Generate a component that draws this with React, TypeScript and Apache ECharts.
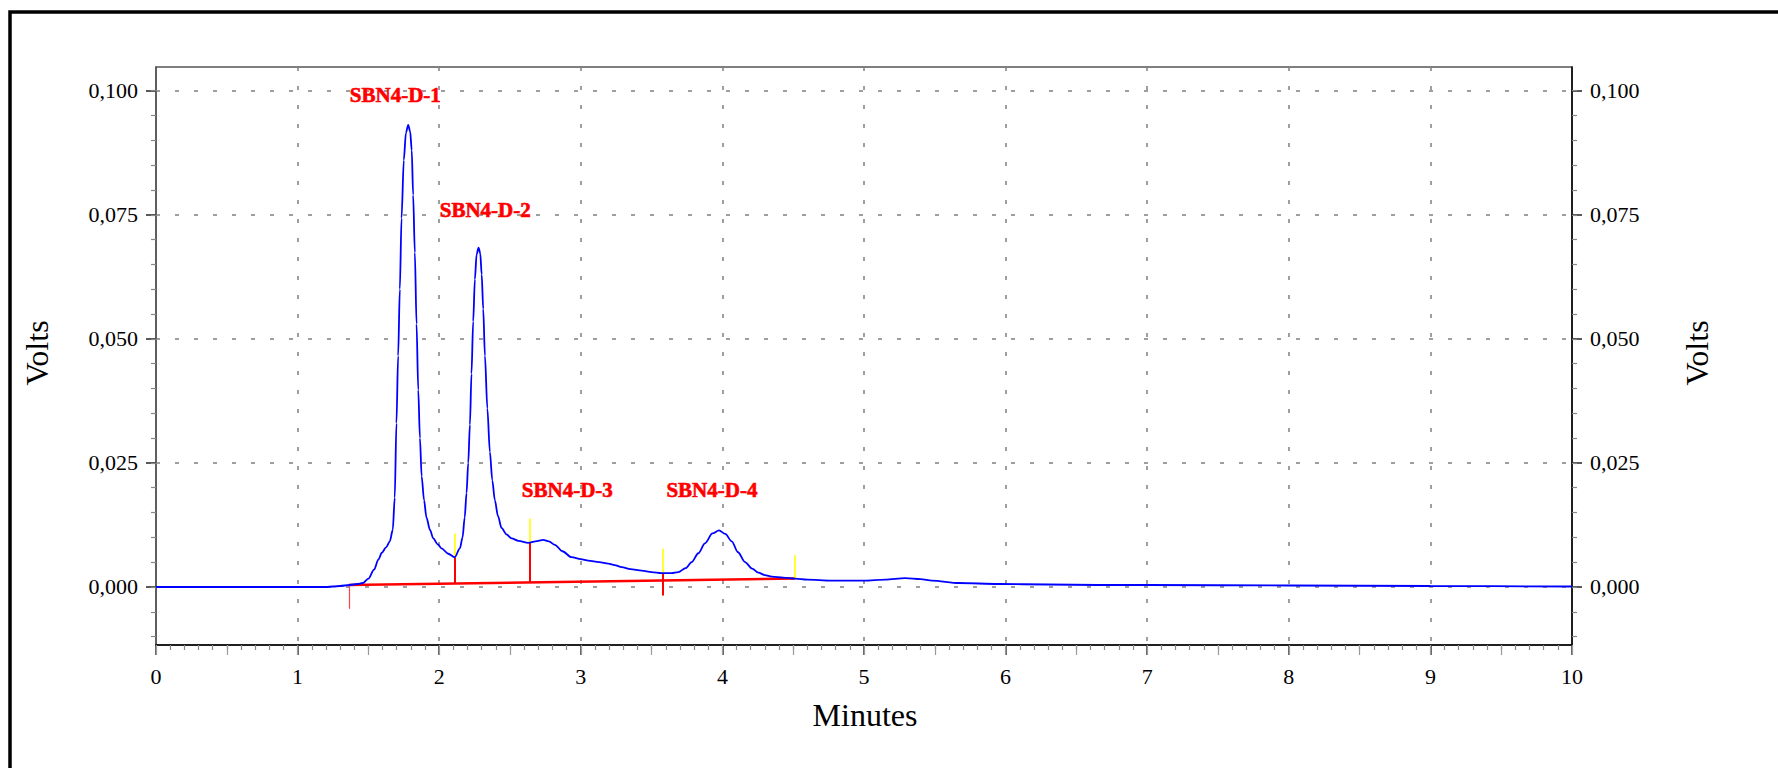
import React, { useEffect, useRef } from "react";
import * as echarts from "echarts";

// Chromatogram trace (minutes, volts)
const timeMin = [
  0, 0.5, 1.0, 1.2, 1.25, 1.30, 1.365, 1.42, 1.46, 1.50,
  1.54, 1.57, 1.595, 1.625, 1.651, 1.672, 1.686, 1.698, 1.710, 1.722,
  1.734, 1.750, 1.765, 1.781, 1.795, 1.806, 1.816, 1.828, 1.840, 1.852,
  1.864, 1.876, 1.893, 1.910, 1.935, 1.958, 1.990, 2.016, 2.064, 2.110,
  2.146, 2.165, 2.180, 2.193, 2.205, 2.217, 2.228, 2.240, 2.252, 2.264,
  2.278, 2.290, 2.300, 2.311, 2.323, 2.340, 2.358, 2.375, 2.393, 2.415,
  2.440, 2.475, 2.511, 2.560, 2.629, 2.680, 2.735, 2.775, 2.817, 2.870,
  2.935, 3.000, 3.053, 3.130, 3.194, 3.240, 3.289, 3.350, 3.430, 3.500,
  3.571, 3.640, 3.689, 3.740, 3.783, 3.830, 3.877, 3.930, 3.976, 4.020,
  4.066, 4.110, 4.160, 4.210, 4.254, 4.300, 4.349, 4.430, 4.513, 4.600,
  4.770, 5.000, 5.150, 5.290, 5.400, 5.480, 5.670, 5.950, 6.300, 6.650,
  7.0, 8.0, 9.0, 10.0,
];
const volts = [
  0, 0, 0, 0, 0.0001, 0.0002, 0.0004, 0.0006, 0.0008, 0.0017,
  0.0035, 0.0055, 0.0069, 0.0080, 0.0092, 0.0115, 0.0180, 0.0330, 0.0466, 0.0600,
  0.0743, 0.0860, 0.0915, 0.0931, 0.0918, 0.0880, 0.0790, 0.0674, 0.0530, 0.0397,
  0.0300, 0.0223, 0.0175, 0.0140, 0.0115, 0.0098, 0.0086, 0.0078, 0.0067, 0.0060,
  0.0078, 0.0100, 0.0140, 0.0189, 0.0250, 0.0327, 0.0430, 0.0535, 0.0620, 0.0670,
  0.0684, 0.0672, 0.0630, 0.0560, 0.0466, 0.0360, 0.0272, 0.0215, 0.0175, 0.0143,
  0.0119, 0.0106, 0.0098, 0.0093, 0.0089, 0.0092, 0.0095, 0.0092, 0.0085, 0.0072,
  0.0060, 0.0056, 0.0053, 0.0050, 0.0047, 0.0044, 0.0040, 0.0036, 0.0033, 0.0030,
  0.0028, 0.0028, 0.0030, 0.0038, 0.0050, 0.0068, 0.0088, 0.0108, 0.0114, 0.0107,
  0.0092, 0.0070, 0.0050, 0.0037, 0.0029, 0.0024, 0.0021, 0.0019, 0.0017, 0.0015,
  0.0013, 0.0013, 0.0015, 0.0018, 0.0016, 0.0013, 0.0008, 0.0006, 0.0005, 0.0004,
  0.0004, 0.0003, 0.0002, 0.0001,
];

// Integration baseline (red)
const baselineTime = [1.362, 4.513];
const baselineVolts = [0.0004, 0.0017];

// Peak delimiter marks: [minutes, fromVolts, toVolts]
const redMarks = [
  [2.11, 0.0006, 0.006],
  [2.64, 0.0008, 0.0089],
  [3.578, 0.0028, -0.0017],
];
const faintRedMarks = [[1.362, 0.0004, -0.0044]];
const yellowMarks = [
  [2.11, 0.006, 0.0108],
  [2.64, 0.0089, 0.0138],
  [3.578, 0.0028, 0.0077],
  [4.513, 0.0017, 0.0064],
];

// Peak names and their label anchors
const peakNames = ["SBN4-D-1", "SBN4-D-2", "SBN4-D-3", "SBN4-D-4"];
const peakLabelX = [1.69, 2.325, 2.905, 3.926];
const peakLabelY = [0.0992, 0.076, 0.0195, 0.0195];

// Axes
const xMin = 0;
const xMax = 10;
const yMin = -0.01169;
const yMax = 0.10478;
const yMajorTicks = [0, 0.025, 0.05, 0.075, 0.1];
const yMinorTicks = [
  -0.01, -0.005, 0, 0.005, 0.01, 0.015, 0.02, 0.025, 0.03, 0.035, 0.04, 0.045,
  0.05, 0.055, 0.06, 0.065, 0.07, 0.075, 0.08, 0.085, 0.09, 0.095, 0.1,
];

const SERIF = "'Liberation Serif', 'Times New Roman', serif";
const GRID_COLOR = "#808080";

export default function App() {
  const ref = useRef<HTMLDivElement>(null);

  useEffect(() => {
    if (!ref.current) return;
    const chart = echarts.init(ref.current, undefined, { renderer: "svg" });

    const curve = timeMin.map((t, i) => [t, volts[i]]);
    const baseline = baselineTime.map((t, i) => [t, baselineVolts[i]]);
    const seg = (m: number[], style: any) => [
      { coord: [m[0], m[1]], lineStyle: style },
      { coord: [m[0], m[2]] },
    ];
    const gridStyle = { color: GRID_COLOR, width: 1.5, type: [4, 15] };

    const fmt = (v: number) => v.toFixed(3).replace(".", ",");

    const yMajor = (pos: "left" | "right", lineColor: string) => ({
      type: "value",
      position: pos,
      min: yMin,
      max: yMax,
      axisLine: { show: true, onZero: false, lineStyle: { color: lineColor, width: 1.5 } },
      axisTick: {
        show: true,
        length: 10,
        customValues: yMajorTicks,
        lineStyle: { color: "#222", width: 1.5 },
      },
      axisLabel: {
        show: true,
        customValues: yMajorTicks,
        formatter: fmt,
        fontFamily: SERIF,
        fontSize: 22,
        color: "#000",
        margin: 18,
      },
      splitLine: { show: false },
      minorSplitLine: { show: false },
      splitArea: { show: false },
    });
    const yMinor = (pos: "left" | "right") => ({
      type: "value",
      position: pos,
      min: yMin,
      max: yMax,
      axisLine: { show: false, onZero: false },
      axisTick: {
        show: true,
        length: 5,
        customValues: yMinorTicks,
        lineStyle: { color: "#888", width: 1.2 },
      },
      axisLabel: { show: false },
      splitLine: { show: false },
      minorSplitLine: { show: false },
      splitArea: { show: false },
    });

    chart.setOption({
      animation: false,
      backgroundColor: "#fff",
      grid: {
        left: 156,
        right: 206,
        top: 67,
        bottom: 123,
        show: true,
        borderColor: "#555",
        borderWidth: 1.5,
        containLabel: false,
      },
      xAxis: [
        {
          type: "value",
          position: "bottom",
          min: xMin,
          max: xMax,
          interval: 1,
          axisLine: { show: true, onZero: false, lineStyle: { color: "#000", width: 1.5 } },
          axisTick: { show: true, length: 10, lineStyle: { color: "#333", width: 1.5 } },
          minorTick: { show: true, splitNumber: 10, length: 5, lineStyle: { color: "#888", width: 1.2 } },
          axisLabel: { fontFamily: SERIF, fontSize: 22, color: "#000", margin: 20 },
          splitLine: { show: true, lineStyle: gridStyle },
        },
        {
          type: "value",
          position: "bottom",
          min: xMin,
          max: xMax,
          interval: 0.5,
          axisLine: { show: false, onZero: false },
          axisTick: { show: true, length: 10, lineStyle: { color: "#999", width: 1.2 } },
          axisLabel: { show: false },
          splitLine: { show: false },
        },
      ],
      yAxis: [yMajor("left", "#555"), yMinor("left"), yMajor("right", "#000"), yMinor("right")],
      graphic: [
        {
          type: "rect",
          shape: { x: 10, y: 12, width: 1800, height: 800 },
          style: { fill: "none", stroke: "#000", lineWidth: 3.5 },
          silent: true,
        },
        {
          type: "text",
          x: 37,
          y: 353,
          rotation: Math.PI / 2,
          style: {
            text: "Volts",
            font: `32px ${SERIF}`,
            fill: "#000",
            textAlign: "center",
            textVerticalAlign: "middle",
          },
        },
        {
          type: "text",
          x: 1697,
          y: 353,
          rotation: Math.PI / 2,
          style: {
            text: "Volts",
            font: `32px ${SERIF}`,
            fill: "#000",
            textAlign: "center",
            textVerticalAlign: "middle",
          },
        },
        {
          type: "text",
          x: 865,
          y: 715,
          style: {
            text: "Minutes",
            font: `32px ${SERIF}`,
            fill: "#000",
            textAlign: "center",
            textVerticalAlign: "middle",
          },
        },
      ],
      series: [
        {
          name: "grid",
          type: "line",
          data: [],
          z: 1,
          markLine: {
            silent: true,
            symbol: "none",
            label: { show: false },
            lineStyle: gridStyle,
            data: yMajorTicks.map((v) => [{ coord: [xMin, v] }, { coord: [xMax, v] }]),
          },
        },
        {
          name: "baseline",
          type: "line",
          data: baseline,
          showSymbol: false,
          symbol: "none",
          z: 4,
          lineStyle: { color: "#ff0000", width: 2.5 },
        },
        {
          name: "trace",
          type: "line",
          data: curve,
          showSymbol: false,
          symbol: "none",
          smooth: 0.3,
          smoothMonotone: "x",
          z: 5,
          lineStyle: { color: "#0000ff", width: 1.8 },
        },
        {
          name: "marks",
          type: "line",
          data: [],
          z: 6,
          markLine: {
            silent: true,
            symbol: "none",
            label: { show: false },
            data: [
              ...redMarks.map((m) => seg(m, { color: "#ff0000", width: 2, type: "solid" })),
              ...faintRedMarks.map((m) => seg(m, { color: "#ff4444", width: 1.2, type: "solid" })),
              ...yellowMarks.map((m) => seg(m, { color: "#ffff00", width: 1.6, type: "solid" })),
            ],
          },
        },
        {
          name: "labels",
          type: "scatter",
          z: 7,
          symbol: "circle",
          symbolSize: 1,
          itemStyle: { color: "#ffffff", opacity: 1 },
          data: peakNames.map((n, i) => ({ name: n, value: [peakLabelX[i], peakLabelY[i]] })),
          label: {
            show: true,
            position: "inside",
            formatter: "{b}",
            color: "#ff0000",
            opacity: 1,
            textBorderWidth: 0.6,
            textBorderColor: "#ff0000",
            fontFamily: SERIF,
            fontWeight: "bold",
            fontSize: 21,
          },
        },
      ],
    });

    return () => chart.dispose();
  }, []);

  return (
    <div
      ref={ref}
      style={{ position: "fixed", left: 0, top: 0, width: 1778, height: 768, background: "#fff" }}
    />
  );
}
